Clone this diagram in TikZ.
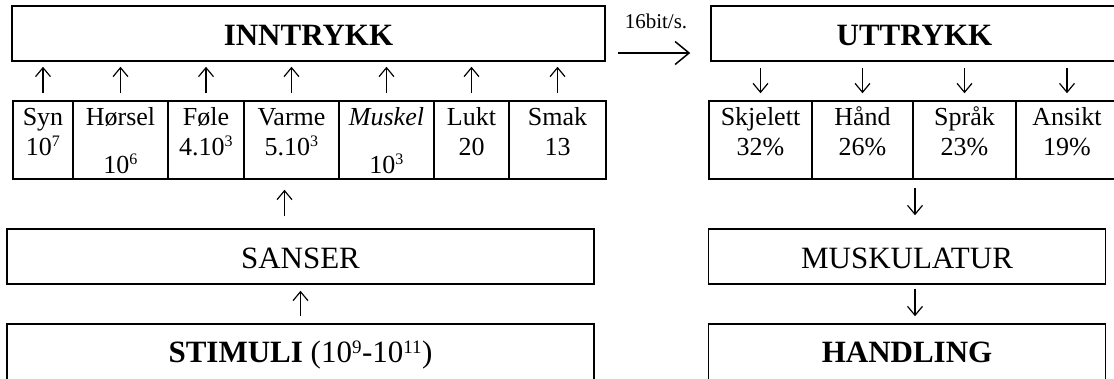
\documentclass[tikz,border=0pt]{standalone}
\usepackage{fontspec}
\setmainfont{Liberation Serif}
\usetikzlibrary{arrows.meta}
\newcommand{\ekspo}[1]{\textsuperscript{\fontsize{16bp}{16bp}\selectfont #1}}
\newcommand{\ekspostor}[1]{\textsuperscript{\fontsize{19bp}{19bp}\selectfont #1}}

\begin{document}
\begin{tikzpicture}[x=1bp,y=-1bp]
\tikzstyle{boks}=[draw, line width=1.5bp, inner sep=0pt, minimum height=55bp, text height=23bp, text depth=0pt, font=\fontsize{31bp}{34bp}\selectfont]
\tikzstyle{bunn}=[boks, minimum height=60bp, text depth=7bp]
\tikzstyle{celle}=[draw, line width=1.5bp, inner sep=0pt, minimum height=78bp]
\tikzstyle{tekst}=[anchor=base, inner sep=0pt, font=\fontsize{26bp}{28bp}\selectfont]
\tikzstyle{lbl}=[anchor=base, inner sep=0pt, font=\fontsize{21bp}{23bp}\selectfont]
\tikzstyle{pil}=[line width=1.2bp, -{Straight Barb[length=9bp,width=15bp]}]
\tikzstyle{storpil}=[line width=1.5bp, -{Straight Barb[length=14bp,width=23bp]}]
\useasboundingbox (0,0) rectangle (1114,378);
\clip (0,0) rectangle (1114,378);
%top row
\node[boks, minimum width=593bp] (inn) at (308.5,33.5) {\textbf{INNTRYKK}};
\node[boks, minimum width=407bp] (ut) at (914.5,33.5) {\textbf{UTTRYKK}};
\draw[storpil, shorten <=12bp, shorten >=20bp] ([yshift=-19.5bp]inn.east) -- ([yshift=-19.5bp]ut.west);
\node[lbl] (bits) at (656,28) {16bit/s.};
%senses
\node[celle, minimum width=60bp] (syn) at (43,140) {};
\node[celle, minimum width=95bp] (hor) at (120.5,140) {};
\node[celle, minimum width=76bp] (fole) at (206,140) {};
\node[celle, minimum width=95bp] (varme) at (291.5,140) {};
\node[celle, minimum width=95bp] (muskel) at (386.5,140) {};
\node[celle, minimum width=75bp] (lukt) at (471.5,140) {};
\node[celle, minimum width=97bp] (smak) at (557.5,140) {};
\node[tekst] (synA) at (43,125) {Syn};
\node[tekst] (synB) at (43,155) {10\ekspo{7}};
\node[tekst] (horA) at (120.5,125) {Hørsel};
\node[tekst] (horB) at (120.5,173) {10\ekspo{6}};
\node[tekst] (foleA) at (206,125) {Føle};
\node[tekst] (foleB) at (206,155) {4.10\ekspo{3}};
\node[tekst] (varmeA) at (291.5,125) {Varme};
\node[tekst] (varmeB) at (291.5,155) {5.10\ekspo{3}};
\node[tekst] (muskelA) at (386.5,125) {\textit{Muskel}};
\node[tekst] (muskelB) at (386.5,173) {10\ekspo{3}};
\node[tekst] (luktA) at (471.5,125) {Lukt};
\node[tekst] (luktB) at (471.5,155) {20};
\node[tekst] (smakA) at (557.5,125) {Smak};
\node[tekst] (smakB) at (557.5,155) {13};
\draw[pil, shorten <=7bp, shorten >=5bp] (syn.north) -- (syn.north |- inn.south);
\draw[pil, shorten <=7bp, shorten >=5bp] (hor.north) -- (hor.north |- inn.south);
\draw[pil, shorten <=7bp, shorten >=5bp] (fole.north) -- (fole.north |- inn.south);
\draw[pil, shorten <=7bp, shorten >=5bp] (varme.north) -- (varme.north |- inn.south);
\draw[pil, shorten <=7bp, shorten >=5bp] (muskel.north) -- (muskel.north |- inn.south);
\draw[pil, shorten <=7bp, shorten >=5bp] (lukt.north) -- (lukt.north |- inn.south);
\draw[pil, shorten <=7bp, shorten >=5bp] (smak.north) -- (smak.north |- inn.south);
%output channels
\node[celle, minimum width=103bp] (skj) at (760.5,140) {};
\node[celle, minimum width=101bp] (hand) at (862.5,140) {};
\node[celle, minimum width=103bp] (sprak) at (964.5,140) {};
\node[celle, minimum width=102bp] (ansikt) at (1067,140) {};
\node[tekst] (skjA) at (760.5,125) {Skjelett};
\node[tekst] (skjB) at (760.5,155) {32\%};
\node[tekst] (handA) at (862.5,125) {Hånd};
\node[tekst] (handB) at (862.5,155) {26\%};
\node[tekst] (sprakA) at (964.5,125) {Språk};
\node[tekst] (sprakB) at (964.5,155) {23\%};
\node[tekst] (ansiktA) at (1067,125) {Ansikt};
\node[tekst] (ansiktB) at (1067,155) {19\%};
\draw[pil, shorten <=6bp, shorten >=7bp] (skj.north |- ut.south) -- (skj.north);
\draw[pil, shorten <=6bp, shorten >=7bp] (hand.north |- ut.south) -- (hand.north);
\draw[pil, shorten <=6bp, shorten >=7bp] (sprak.north |- ut.south) -- (sprak.north);
\draw[pil, shorten <=6bp, shorten >=7bp] (ansikt.north |- ut.south) -- (ansikt.north);
%lower boxes
\node[boks, minimum width=587bp] (sanser) at (300.5,256.5) {SANSER};
\node[bunn, minimum width=587bp] (stimuli) at (300.5,354) {\textbf{STIMULI} (10\ekspostor{9}-10\ekspostor{11})};
\node[boks, minimum width=397bp] (musk) at (907,256.5) {MUSKULATUR};
\node[bunn, minimum width=397bp] (handling) at (907,354) {\textbf{HANDLING}};
\coordinate (v) at ([xshift=-7bp]varme.south);
\draw[pil, shorten <=12bp, shorten >=10bp] (v |- sanser.north) -- (v);
\draw[pil, shorten <=7bp, shorten >=6bp] (stimuli.north) -- (sanser.south);
\coordinate (m) at ([xshift=8bp]musk.north);
\draw[pil, shorten <=8bp, shorten >=13bp] (m |- skj.south) -- (m);
\draw[pil, shorten <=4bp, shorten >=7bp] (m |- musk.south) -- (m |- handling.north);
\end{tikzpicture}
\end{document}
